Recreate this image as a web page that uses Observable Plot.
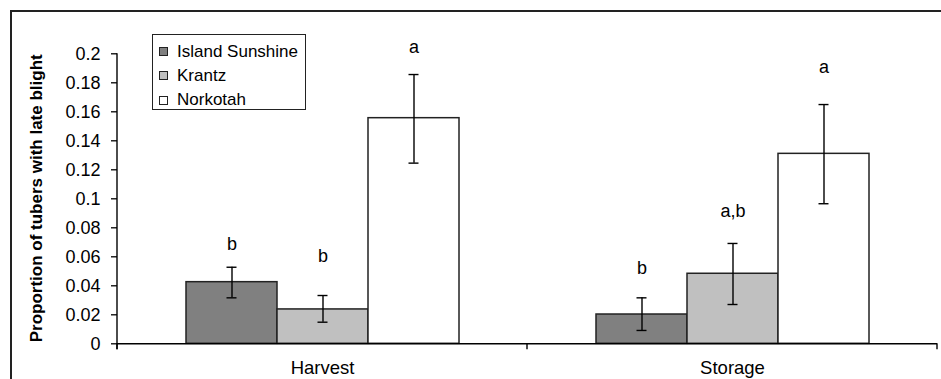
<!DOCTYPE html>
<html>
<head>
<meta charset="utf-8">
<script src="https://cdn.jsdelivr.net/npm/d3@7"></script>
<script src="https://cdn.jsdelivr.net/npm/@observablehq/plot@0.6"></script>
<style>
  html, body { margin: 0; padding: 0; background: #fff; }
  #wrap { position: relative; width: 941px; height: 379px; overflow: hidden; font-family: "Liberation Sans", Arial, sans-serif; }
  #chart { position: absolute; left: 0; top: 0; }
  #frame { position: absolute; left: 10px; top: 10px; width: 980px; height: 420px; border: 2px solid #222; box-sizing: border-box; pointer-events: none; }
  #legend { position: absolute; left: 152px; top: 34px; width: 154px; height: 76px; border: 1.5px solid #222; box-sizing: border-box; background: #fff; }
  .item { position: absolute; left: 6px; height: 20px; display: flex; align-items: center; font-size: 17px; color: #000; white-space: nowrap; }
  .sw { width: 7px; height: 7px; border: 1px solid #222; margin-right: 9px; }
</style>
</head>
<body>
<div id="wrap">
  <div id="chart"></div>
  <div id="frame"></div>
  <div id="legend"></div>
</div>
<script>
// ---- Data ----
const periods = ["Harvest", "Storage"];
const cultivars = ["Island Sunshine", "Krantz", "Norkotah"];
const harvestMean = [0.0425, 0.0237, 0.1556];
const harvestLow  = [0.0317, 0.0149, 0.1246];
const harvestHigh = [0.0528, 0.0333, 0.1857];
const storageMean = [0.0202, 0.0483, 0.1310];
const storageLow  = [0.0092, 0.0271, 0.0966];
const storageHigh = [0.0317, 0.0692, 0.1650];
const harvestLetters = ["b", "b", "a"];
const storageLetters = ["b", "a,b", "a"];
const harvestLetterY = [0.0688, 0.0602, 0.2043];
const storageLetterY = [0.0519, 0.0914, 0.1906];
const yTicks = [0, 0.02, 0.04, 0.06, 0.08, 0.1, 0.12, 0.14, 0.16, 0.18, 0.2];
const yTickLabels = ["0", "0.02", "0.04", "0.06", "0.08", "0.1", "0.12", "0.14", "0.16", "0.18", "0.2"];
const yTitle = "Proportion of tubers with late blight";
const fills = ["#808080", "#c0c0c0", "#ffffff"];

// ---- Build table ----
const series = {
  Harvest: {mean: harvestMean, low: harvestLow, high: harvestHigh, letters: harvestLetters, ly: harvestLetterY},
  Storage: {mean: storageMean, low: storageLow, high: storageHigh, letters: storageLetters, ly: storageLetterY}
};
const data = [];
for (const p of periods) {
  cultivars.forEach((c, i) => {
    const s = series[p];
    data.push({period: p, cultivar: c, value: s.mean[i], low: s.low[i], high: s.high[i], letter: s.letters[i], ly: s.ly[i]});
  });
}

const chart = Plot.plot({
  width: 941,
  height: 379,
  marginLeft: 117,
  marginRight: 4,
  marginTop: 53.3,
  marginBottom: 35.7,
  style: {fontFamily: "'Liberation Sans', Arial, sans-serif", fontSize: "18px", color: "#000", background: "transparent", overflow: "visible"},
  fx: {domain: periods, padding: 0, label: null},
  x: {domain: cultivars, paddingInner: 0, paddingOuter: 0.743, axis: null},
  y: {domain: [0, 0.2], label: null},
  color: {domain: cultivars, range: fills},
  marks: [
    Plot.barY(data, {fx: "period", x: "cultivar", y: "value", fill: "cultivar", stroke: "#222", strokeWidth: 1.5}),
    Plot.ruleX(data, {fx: "period", x: "cultivar", y1: "low", y2: "high", stroke: "#000", strokeWidth: 1.4}),
    Plot.tickY(data, {fx: "period", x: "cultivar", y: "low", stroke: "#000", strokeWidth: 1.4, insetLeft: 40.5, insetRight: 40.5}),
    Plot.tickY(data, {fx: "period", x: "cultivar", y: "high", stroke: "#000", strokeWidth: 1.4, insetLeft: 40.5, insetRight: 40.5}),
    Plot.text(data, {fx: "period", x: "cultivar", y: "ly", text: "letter", fontSize: 18, fill: "#000"}),
    Plot.ruleY([0], {stroke: "#000", strokeWidth: 1.5}),
    Plot.axisY({ticks: yTicks, tickFormat: (d, i) => yTickLabels[i], tickSize: 6, tickPadding: 11, fontSize: 18, label: null, strokeWidth: 1.3}),
    Plot.axisFx({anchor: "bottom", tickSize: 0, tickPadding: 17.5, fontSize: 18.5, label: null})
  ]
});
document.getElementById("chart").appendChild(chart);

// ---- Axis lines and category boundary ticks from the chart's own scales ----
const fxS = chart.scale("fx");
const yS = chart.scale("y");
const svg = d3.select(chart);
const g = svg.append("g").attr("stroke", "#000").attr("stroke-width", 1.4);
const x0 = fxS.apply(periods[0]);
const y0 = yS.apply(0), yTop = yS.apply(0.2);
g.append("line").attr("x1", x0).attr("x2", x0).attr("y1", yTop).attr("y2", y0 + 6);
const edges = periods.map(p => fxS.apply(p)).concat([fxS.apply(periods[periods.length - 1]) + fxS.bandwidth]);
edges.forEach(e => g.append("line").attr("x1", e).attr("x2", e).attr("y1", y0).attr("y2", y0 + 6));
svg.append("text")
  .attr("transform", `translate(42,${(y0 + yTop) / 2}) rotate(-90)`)
  .attr("text-anchor", "middle")
  .attr("font-weight", "bold")
  .attr("font-size", 17)
  .attr("fill", "#000")
  .text(yTitle);

// ---- Legend ----
const legend = d3.select("#legend");
const rowTops = [6.5, 30.5, 55];
cultivars.forEach((c, i) => {
  const it = legend.append("div").attr("class", "item").style("top", rowTops[i] + "px");
  it.append("div").attr("class", "sw").style("background", chart.scale("color").apply(c));
  it.append("span").text(c);
});
</script>
</body>
</html>
